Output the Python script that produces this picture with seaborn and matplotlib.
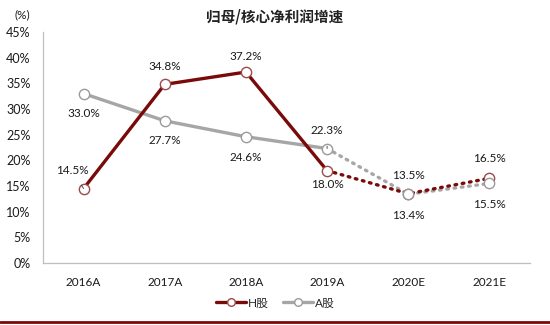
import matplotlib
matplotlib.use("Agg")
import matplotlib.pyplot as plt
from matplotlib.lines import Line2D
import numpy as np
import pandas as pd
import seaborn as sns

# Data
years = ["2016A", "2017A", "2018A", "2019A", "2020E", "2021E"]
h_share = [14.5, 34.8, 37.2, 18.0, 13.5, 16.5]
a_share = [33.0, 27.7, 24.6, 22.3, 13.4, 15.5]
n_actual = 4  # first four years are reported, the rest are forecasts
y_ticks = [0, 5, 10, 15, 20, 25, 30, 35, 40, 45]

RED = "#7A0A0A"
GRAY = "#A6A6A6"
FS = 8.5

sns.set_theme(style="white")
plt.rcParams["font.family"] = ["Lato", "Noto Sans CJK SC", "DejaVu Sans"]

df = pd.DataFrame({
    "pos": np.arange(len(years)),
    "year": years,
    "H股": h_share,
    "A股": a_share,
})
actual = df.iloc[:n_actual]
forecast = df.iloc[n_actual - 1:]

fig = plt.figure(figsize=(5.5, 3.25), dpi=100)
ax = fig.add_axes([43 / 550, 1 - 263 / 325, (530 - 43) / 550, (263 - 32) / 325])

# Lines: A-share beneath H-share
sns.lineplot(data=actual, x="pos", y="A股", ax=ax, color=GRAY, lw=2.4,
             solid_capstyle="butt", zorder=2)
sns.lineplot(data=forecast, x="pos", y="A股", ax=ax, color=GRAY, lw=2.4,
             linestyle=(0, (0.5, 1.7)), dash_capstyle="round", zorder=2)
sns.lineplot(data=actual, x="pos", y="H股", ax=ax, color=RED, lw=2.4,
             solid_capstyle="butt", zorder=3)
sns.lineplot(data=forecast, x="pos", y="H股", ax=ax, color=RED, lw=2.4,
             linestyle=(0, (0.5, 1.7)), dash_capstyle="round", zorder=3)

# Hollow markers
sns.scatterplot(data=df, x="pos", y="H股", ax=ax, s=55, marker="o",
                facecolor="white", edgecolor="#9C4A4A", linewidth=1.0, zorder=4)
sns.scatterplot(data=df, x="pos", y="A股", ax=ax, s=55, marker="o",
                facecolor="white", edgecolor="#9A9A9A", linewidth=1.0, zorder=5)

# Value labels (offsets in points)
h_off = [(-8, 13), (0, 13), (0, 11), (0, -10), (0, 13), (0, 14)]
a_off = [(0, -14), (0, -14), (0, -15), (0, 13), (0, -15), (0, -15)]
lab_kw = dict(textcoords="offset points", ha="center", va="center",
              fontsize=FS, color="#1a1a1a", zorder=6)
for i, (v, off) in enumerate(zip(h_share, h_off)):
    if i == 0:
        ax.annotate(f"{v:.1f}%", (i, v), xytext=off,
                    arrowprops=dict(arrowstyle="-", color="#333333", lw=0.6,
                                    shrinkA=5, shrinkB=3), **lab_kw)
    else:
        ax.annotate(f"{v:.1f}%", (i, v), xytext=off, **lab_kw)
for i, (v, off) in enumerate(zip(a_share, a_off)):
    if i == 3:
        ax.annotate(f"{v:.1f}%", (i, v), xytext=off,
                    arrowprops=dict(arrowstyle="-", color="#333333", lw=0.6,
                                    shrinkA=5, shrinkB=2), **lab_kw)
    else:
        ax.annotate(f"{v:.1f}%", (i, v), xytext=off, **lab_kw)

# Axes styling
ax.set_xlim(-0.5, len(years) - 0.5)
ax.set_ylim(0, 45)
ax.set_yticks(y_ticks)
ax.set_yticklabels([f"{t}%" for t in y_ticks], fontsize=FS + 0.5, color="#1a1a1a")
ax.set_xticks(np.arange(len(years)))
ax.set_xticklabels(years, fontsize=FS, color="#1a1a1a")
ax.set_xticks(np.arange(len(years) + 1) - 0.5, minor=True)
ax.tick_params(axis="x", which="major", length=0, pad=10)
ax.tick_params(axis="x", which="minor", length=4, width=0.8, color="#BFBFBF",
               direction="out")
ax.tick_params(axis="y", which="major", length=4, width=0.8, color="#BFBFBF",
               direction="in", pad=9)
ax.set_xlabel("")
ax.set_ylabel("")
for side in ("top", "right"):
    ax.spines[side].set_visible(False)
for side in ("left", "bottom"):
    ax.spines[side].set_color("#BFBFBF")
    ax.spines[side].set_linewidth(0.9)
ax.grid(False)

# Title and unit
fig.text(0.5, 1 - 16 / 325, "归母/核心净利润增速", ha="center", va="center",
         fontsize=10.5, fontweight="bold", color="#222222",
         family=["Noto Sans CJK SC", "DejaVu Sans"])
fig.text(22 / 550, 1 - 15 / 325, "(%)", ha="center", va="center",
         fontsize=FS, color="#1a1a1a")

# Legend
handles = [
    Line2D([], [], color=RED, lw=2.4, marker="o", markersize=5.5,
           markerfacecolor="white", markeredgecolor="#9C4A4A", markeredgewidth=1.0),
    Line2D([], [], color=GRAY, lw=2.4, marker="o", markersize=5.5,
           markerfacecolor="white", markeredgecolor="#9A9A9A", markeredgewidth=1.0),
]
fig.legend(handles, ["H股", "A股"], loc="center", ncol=2,
           bbox_to_anchor=(0.5, 1 - 303 / 325), frameon=False,
           handlelength=2.6, handletextpad=0.1, columnspacing=1.2,
           prop={"family": ["Lato", "Noto Sans CJK SC"], "size": FS})

# Bottom rule
fig.add_artist(Line2D([0, 1], [1 - 322 / 325] * 2, transform=fig.transFigure,
                      color=RED, lw=2.0))

fig.savefig("out.png", dpi=100)
